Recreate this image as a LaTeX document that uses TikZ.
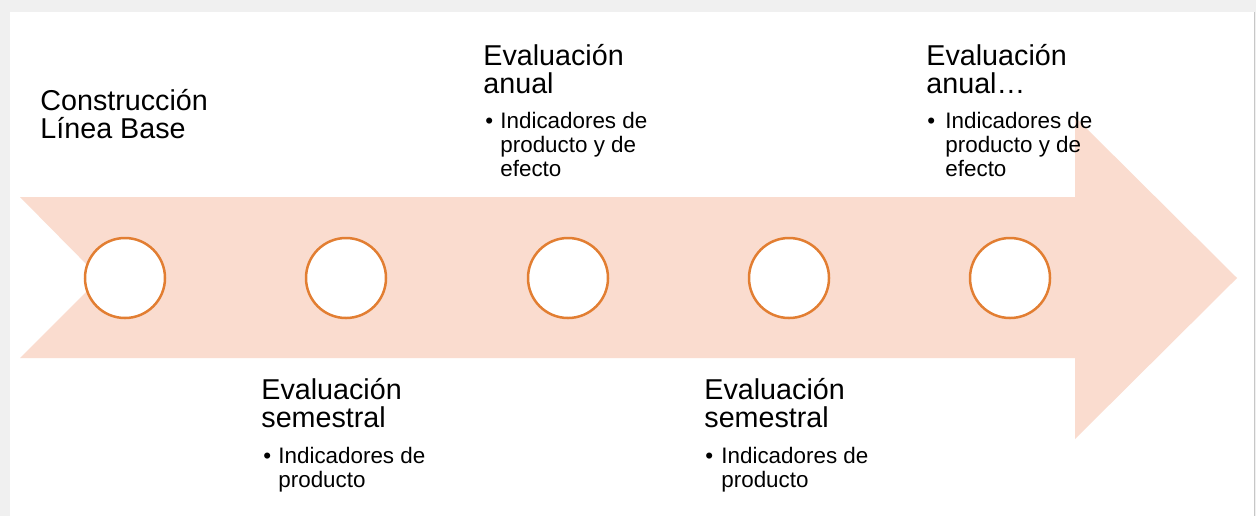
\documentclass[tikz,border=0pt]{standalone}
\usepackage{fontspec}
\setmainfont{Liberation Sans}
\usetikzlibrary{positioning}
\definecolor{arrowfill}{RGB}{250,220,207}
\definecolor{ringorange}{RGB}{226,126,50}
\begin{document}
\begin{tikzpicture}
  [
  x=0.5pt, y=-0.5pt,
  stage/.style={circle, minimum size=40pt, inner sep=0pt, draw=ringorange, line width=1.25pt, fill=white},
  heading/.style={anchor=base west, inner sep=0pt, align=left, font=\fontsize{14.35}{13.85}\selectfont},
  itemtext/.style={anchor=base west, inner sep=0pt, align=left, font=\fontsize{11.2}{11.9}\selectfont},
  bulletmark/.style={anchor=base west, inner sep=0pt, font=\fontsize{11.2}{11.9}\selectfont}
  ]

\useasboundingbox (0,0) rectangle (1256,516);
\fill[black!6] (0,0) rectangle (1256,516);
\fill[white] (10,12) rectangle (1254,516);
\draw[black!22, line width=0.6pt] (1254.5,12) -- (1254.5,516);

\fill[arrowfill] (20,197) -- (1075,197) -- (1075,117) -- (1237,278) -- (1075,439)
  -- (1075,358) -- (20,358) -- (100,278) -- cycle;

\foreach \i/\x in {1/125,2/346,3/568,4/789,5/1010} {
  \node[stage] (c\i) at (\x,278) {};
}

\node[heading] (t1) at (40,138) {Construcción\\Línea Base};
\node[heading] (t2) at (261,427) {Evaluación\\semestral};
\node[heading] (t3) at (483,93) {Evaluación\\anual};
\node[heading] (t4) at (704,427) {Evaluación\\semestral};
\node[heading] (t5) at (926,93) {Evaluación\\anual…};

\foreach \n/\x/\y in {2/263/463,3/485/128,4/705/463,5/927/128} {
  \node[bulletmark] (b\n) at (\x,\y) {\textbullet};
}

\node[itemtext] (i2) at (278,487) {Indicadores de\\producto};
\node[itemtext] (i3) at (500,176) {Indicadores de\\producto y de\\efecto};
\node[itemtext] (i4) at (721,487) {Indicadores de\\producto};
\node[itemtext] (i5) at (945,176) {Indicadores de\\producto y de\\efecto};

\end{tikzpicture}
\end{document}
